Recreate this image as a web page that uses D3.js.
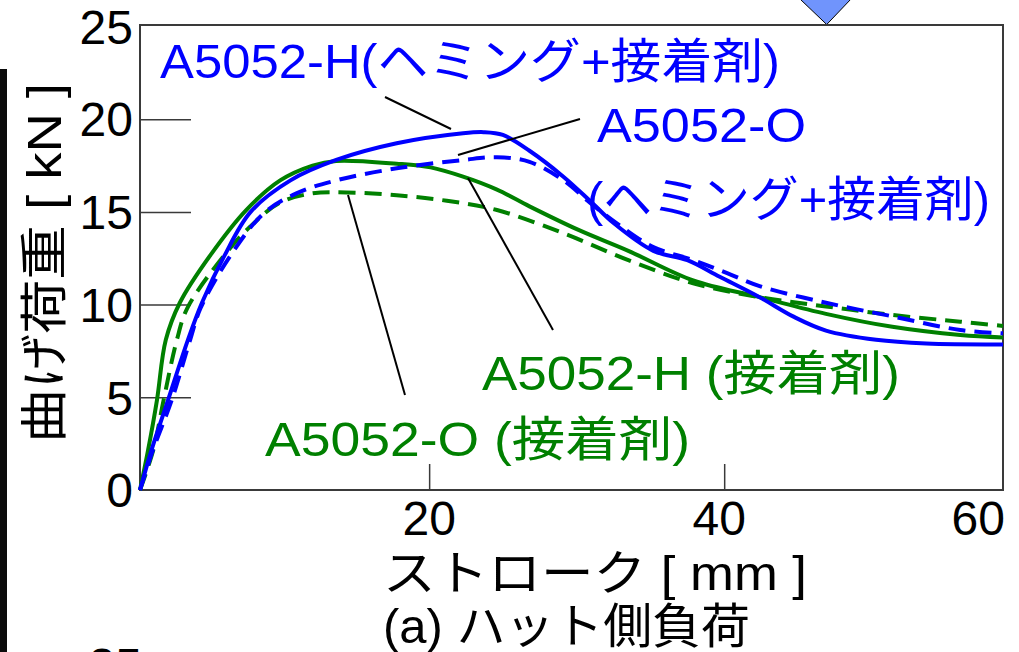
<!DOCTYPE html>
<html>
<head>
<meta charset="utf-8">
<script src="https://cdn.jsdelivr.net/npm/d3@7"></script>
<style>
  html, body { margin: 0; padding: 0; background: #fff; }
  svg { display: block; }
  text { font-family: "Liberation Sans", Arial, "Noto Sans CJK JP", sans-serif; }
</style>
</head>
<body>
<svg id="chart" width="1019" height="652"></svg>
<script>
// Load–stroke curves, hat-side loading: [stroke mm, load kN]
const hHemming = [[0.4,0],[1.2,2.2],[2.3,4.85],[3.65,8.1],[4.6,10.1],[6.1,12.6],[7.9,15.0],[10.6,16.7],[13.7,17.8],[17.8,18.7],[22.3,19.24],[23.7,19.3],[25.0,19.15],[26.8,18.3],[29.1,16.9],[30.9,15.6],[32.5,14.4],[35.2,12.9],[37.5,12.4],[39.7,11.5],[42.4,10.4],[44.7,9.35],[46.9,8.6],[50.3,8.1],[53.7,7.9],[58.9,7.85]];
const oHemming = [[0.4,0],[1.3,2.2],[2.55,4.85],[3.8,8.1],[4.5,9.8],[6.5,12.6],[8.76,14.9],[11.0,16.0],[13.7,16.7],[17.8,17.35],[22.3,17.8],[24.6,17.95],[26.8,17.7],[29.1,16.7],[30.9,15.5],[32.7,14.4],[35.2,13.1],[37.9,12.4],[40.2,11.7],[42.4,11.0],[46.9,10.1],[51.5,9.35],[56.0,8.63],[58.9,8.45]];
const hAdhesive = [[0.4,0],[0.95,2.16],[1.55,4.85],[2.15,8.1],[3.1,10.1],[5.2,12.7],[7.6,15.1],[9.9,16.7],[12.1,17.5],[13.7,17.75],[17.8,17.6],[20.1,17.4],[22.3,16.9],[24.6,16.2],[26.8,15.3],[30.2,14.0],[33.5,12.9],[37.9,11.3],[42.4,10.4],[46.9,9.5],[51.4,8.8],[56.0,8.36],[58.9,8.23]];
const oAdhesive = [[0.4,0],[1.3,2.16],[2.0,4.85],[2.9,8.1],[3.6,9.8],[6.05,12.6],[7.86,14.2],[9.9,15.5],[12.1,16.0],[14.4,16.05],[17.8,15.9],[21.2,15.6],[24.6,15.1],[29.1,13.85],[33.5,12.4],[37.9,11.15],[42.4,10.4],[46.9,9.9],[51.4,9.44],[56.0,9.08],[58.9,8.85]];

const xTicks = [20, 40, 60];
const yTicks = [0, 5, 10, 15, 20, 25];
const xTitle = "ストローク [ mm ]";
const yTitle = "曲げ荷重 [ kN ]";
const caption = "(a) ハット側負荷";

const svg = d3.select("#chart");
const L = 140, R = 1003, T = 25, B = 490;

const x = d3.scaleLinear().domain([0.4, 58.9]).range([L, R]);
const y = d3.scaleLinear().domain([0, 25]).range([B, 26.5]);

// dark bar on the left edge and marker above the frame
svg.append("rect").attr("x", 0).attr("y", 69).attr("width", 7).attr("height", 583).attr("fill", "#0b0b0b");
svg.append("path").attr("d", "M800,-1 L851,-1 L826.7,24.5 Z")
  .attr("fill", "#7094fc").attr("stroke", "#000").attr("stroke-width", 1);

// frame
svg.append("rect").attr("x", L).attr("y", T).attr("width", R - L).attr("height", B - T)
  .attr("fill", "none").attr("stroke", "#3a3a3a").attr("stroke-width", 2);

// inward ticks
const yAxis = d3.axisRight(y).tickValues(yTicks.filter(d => d > 0 && d < 25)).tickSize(51).tickFormat("");
svg.append("g").attr("transform", `translate(${L},0)`).call(yAxis)
  .call(g => g.select(".domain").remove())
  .selectAll("line").attr("stroke", "#3a3a3a").attr("stroke-width", 1.5);
const xAxis = d3.axisTop(x).tickValues(xTicks.filter(d => d < 58.9)).tickSize(26).tickFormat("");
svg.append("g").attr("transform", `translate(0,${B})`).call(xAxis)
  .call(g => g.select(".domain").remove())
  .selectAll("line").attr("stroke", "#3a3a3a").attr("stroke-width", 1.5);

// tick labels
svg.append("g").selectAll("text").data(yTicks).join("text")
  .attr("x", 133).attr("y", d => y(d)).attr("dy", "0.36em")
  .attr("text-anchor", "end").attr("font-size", 48).attr("fill", "#000")
  .text(d => d);
svg.append("g").selectAll("text").data(xTicks).join("text")
  .attr("x", d => d === 60 ? R + 2 : x(d) - (d === 40 ? 5 : 0))
  .attr("y", 535)
  .attr("text-anchor", d => d === 60 ? "end" : "middle")
  .attr("font-size", 48).attr("fill", "#000")
  .text(d => d);

// axis titles and caption
svg.append("text").attr("x", 383).attr("y", 590).attr("font-size", 48)
  .attr("textLength", 424).attr("lengthAdjust", "spacingAndGlyphs").text(xTitle);
svg.append("text").attr("x", 383).attr("y", 643).attr("font-size", 48)
  .attr("textLength", 367).attr("lengthAdjust", "spacingAndGlyphs").text(caption);
svg.append("text").attr("transform", "translate(61,263) rotate(-90)")
  .attr("text-anchor", "middle").attr("font-size", 48)
  .attr("textLength", 360).attr("lengthAdjust", "spacingAndGlyphs").text(yTitle);
// next panel's top label, cut by the page edge
svg.append("text").attr("x", 142).attr("y", 682).attr("text-anchor", "end")
  .attr("font-size", 48).text("25");

// curves
const line = d3.line().x(d => x(d[0])).y(d => y(d[1])).curve(d3.curveCatmullRom.alpha(0.5));
const series = [
  { data: oAdhesive, color: "#008000", dash: "17,9" },
  { data: hAdhesive, color: "#008000", dash: null },
  { data: oHemming, color: "#0000ff", dash: "17,9" },
  { data: hHemming, color: "#0000ff", dash: null }
];
svg.append("g").selectAll("path").data(series).join("path")
  .attr("d", d => line(d.data))
  .attr("fill", "none").attr("stroke", d => d.color).attr("stroke-width", 4)
  .attr("stroke-dasharray", d => d.dash);

// leader lines
const leaders = [[385, 97, 451, 129], [580, 119, 458, 155], [468, 178, 553, 330], [348, 195, 405, 395]];
svg.append("g").selectAll("line").data(leaders).join("line")
  .attr("x1", d => d[0]).attr("y1", d => d[1]).attr("x2", d => d[2]).attr("y2", d => d[3])
  .attr("stroke", "#000").attr("stroke-width", 2);

// series labels
const labels = [
  { t: "A5052-H(ヘミング+接着剤)", x: 160, y: 78, w: 620, c: "#0000ff" },
  { t: "A5052-O", x: 597, y: 142, w: 209, c: "#0000ff" },
  { t: "(ヘミング+接着剤)", x: 587, y: 216, w: 403, c: "#0000ff" },
  { t: "A5052-H (接着剤)", x: 482, y: 390, w: 418, c: "#008000" },
  { t: "A5052-O (接着剤)", x: 265, y: 456, w: 425, c: "#008000" }
];
svg.append("g").selectAll("text").data(labels).join("text")
  .attr("x", d => d.x).attr("y", d => d.y).attr("fill", d => d.c)
  .attr("font-size", 48).attr("textLength", d => d.w).attr("lengthAdjust", "spacingAndGlyphs")
  .text(d => d.t);
</script>
</body>
</html>
